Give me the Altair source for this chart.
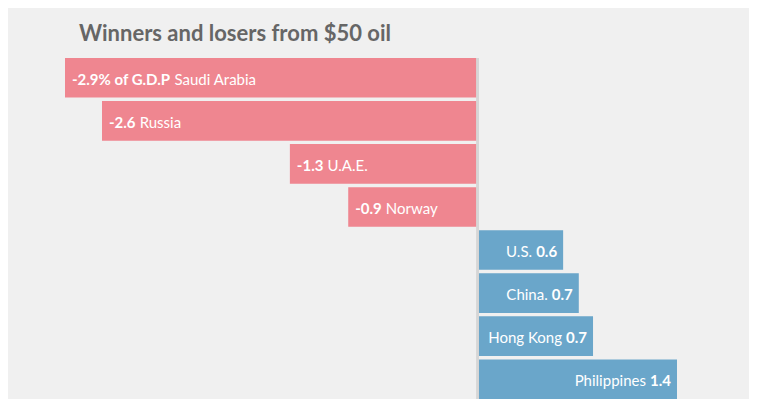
import altair as alt
import pandas as pd

countries = ["Saudi Arabia", "Russia", "U.A.E.", "Norway", "U.S.", "China.", "Hong Kong", "Philippines"]
values = [-2.9, -2.64, -1.32, -0.91, 0.6, 0.71, 0.81, 1.4]
value_labels = ["-2.9% of G.D.P", "-2.6", "-1.3", "-0.9", "0.6", "0.7", "0.7", "1.4"]

TITLE = "Winners and losers from $50 oil"

# plot geometry
W = 612
DOMAIN = [-2.9, 1.4]
PPU = W / (DOMAIN[1] - DOMAIN[0])
FS = 15

# approximate Lato Bold advance widths (em)
BOLD_W = {"-": 0.36, ".": 0.22, "%": 0.80, " ": 0.19, "o": 0.57, "f": 0.34,
          "G": 0.73, "D": 0.76, "P": 0.63}


def bold_width(s):
    return sum(BOLD_W.get(c, 0.58) for c in s) * FS * 1.03


SPACE = 0.25 * FS

rows = []
for i, (c, v, lab) in enumerate(zip(countries, values, value_labels)):
    if v < 0:
        name_x = v + (bold_width(lab) + SPACE) / PPU
    else:
        name_x = v - (bold_width(lab) + SPACE) / PPU
    rows.append({"country": c, "value": v, "label": lab, "name_x": name_x,
                 "order": i, "sign": "neg" if v < 0 else "pos"})
df = pd.DataFrame(rows)

xscale = alt.Scale(domain=DOMAIN, nice=False, zero=False)
yenc = alt.Y("country:N", sort=countries, axis=None,
             scale=alt.Scale(paddingInner=0.08, paddingOuter=0))

base = alt.Chart(df)

bars = base.mark_bar(cornerRadius=0).encode(
    x=alt.X("value:Q", scale=xscale, axis=None),
    x2=alt.datum(0),
    y=yenc,
    color=alt.Color("sign:N", scale=alt.Scale(domain=["neg", "pos"], range=["#ef8690", "#6aa6ca"]), legend=None),
)

rule = base.mark_rule(color="#d6d6d6", strokeWidth=2).encode(
    x=alt.datum(0),
)

neg = base.transform_filter("datum.value < 0")
pos = base.transform_filter("datum.value >= 0")

neg_val = neg.mark_text(align="left", baseline="middle", dx=7, dy=2, color="white",
                        font="Lato", fontSize=FS, fontWeight="bold").encode(
    x=alt.X("value:Q", scale=xscale), y=yenc, text="label:N")
neg_name = neg.mark_text(align="left", baseline="middle", dx=7, dy=2, color="white",
                         font="Lato", fontSize=FS, fontWeight="normal").encode(
    x=alt.X("name_x:Q", scale=xscale), y=yenc, text="country:N")
pos_val = pos.mark_text(align="right", baseline="middle", dx=-6, dy=2, color="white",
                        font="Lato", fontSize=FS, fontWeight="bold").encode(
    x=alt.X("value:Q", scale=xscale), y=yenc, text="label:N")
pos_name = pos.mark_text(align="right", baseline="middle", dx=-6, dy=2, color="white",
                         font="Lato", fontSize=FS, fontWeight="normal").encode(
    x=alt.X("name_x:Q", scale=xscale), y=yenc, text="country:N")

chart = alt.layer(bars, rule, neg_val, neg_name, pos_val, pos_name).properties(
    width=W,
    height=341,
    autosize=alt.AutoSizeParams(type="none"),
    padding={"left": 57, "top": 50, "right": 72, "bottom": 0},
    background="#f0f0f0",
    title=alt.TitleParams(TITLE, anchor="start", frame="group", dx=14, offset=-6,
                          baseline="alphabetic", font="Lato", fontSize=22,
                          fontWeight="bold", color="#666666"),
).configure_view(stroke=None)

chart.save("out.html", embed_options={"renderer": "svg", "actions": False})
